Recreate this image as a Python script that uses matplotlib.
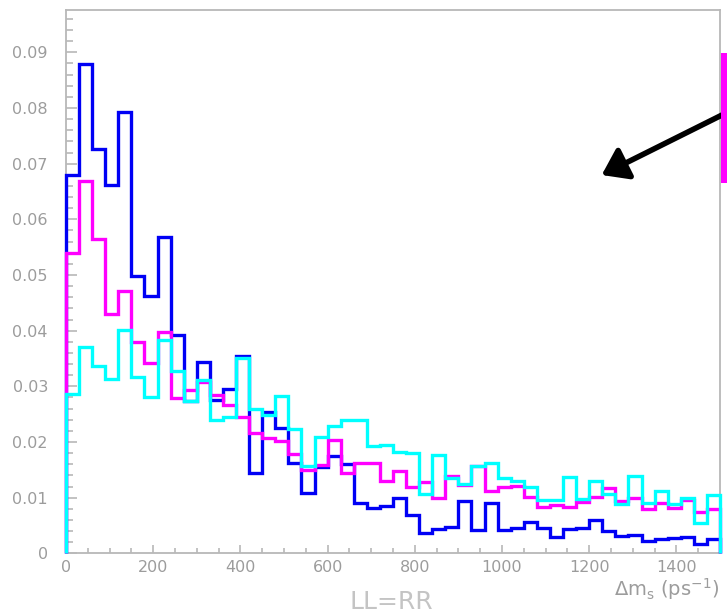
import numpy as np
import matplotlib
matplotlib.use("Agg")
import matplotlib.pyplot as plt
from matplotlib.patches import Rectangle
from matplotlib.ticker import MultipleLocator, FuncFormatter

# Histogram binning: 50 bins of 30 ps^-1 from 0 to 1500
bin_width = 30
n_bins = 50
bin_edges = np.arange(n_bins + 1) * bin_width

blue_counts = [
    0.0680, 0.0879, 0.0726, 0.0662, 0.0793, 0.0499, 0.0463, 0.0568, 0.0392, 0.0274,
    0.0344, 0.0276, 0.0295, 0.0354, 0.0144, 0.0254, 0.0226, 0.0162, 0.0108, 0.0155,
    0.0174, 0.0160, 0.0091, 0.0082, 0.0085, 0.0100, 0.0069, 0.0036, 0.0044, 0.0047,
    0.0094, 0.0042, 0.0090, 0.0042, 0.0046, 0.0057, 0.0045, 0.0030, 0.0043, 0.0046,
    0.0060, 0.0040, 0.0031, 0.0033, 0.0022, 0.0025, 0.0027, 0.0030, 0.0017, 0.0025,
]
magenta_counts = [
    0.0539, 0.0669, 0.0565, 0.0430, 0.0472, 0.0380, 0.0341, 0.0397, 0.0279, 0.0294,
    0.0307, 0.0284, 0.0266, 0.0244, 0.0217, 0.0208, 0.0202, 0.0178, 0.0150, 0.0159,
    0.0204, 0.0144, 0.0162, 0.0162, 0.0130, 0.0148, 0.0119, 0.0128, 0.0100, 0.0138,
    0.0122, 0.0156, 0.0112, 0.0119, 0.0121, 0.0102, 0.0084, 0.0087, 0.0084, 0.0092,
    0.0101, 0.0118, 0.0094, 0.0099, 0.0079, 0.0090, 0.0082, 0.0095, 0.0074, 0.0079,
]
cyan_counts = [
    0.0287, 0.0371, 0.0337, 0.0314, 0.0402, 0.0316, 0.0281, 0.0383, 0.0327, 0.0273,
    0.0312, 0.0240, 0.0245, 0.0351, 0.0259, 0.0248, 0.0283, 0.0223, 0.0156, 0.0209,
    0.0228, 0.0240, 0.0239, 0.0192, 0.0194, 0.0182, 0.0180, 0.0107, 0.0177, 0.0136,
    0.0124, 0.0157, 0.0162, 0.0136, 0.0130, 0.0119, 0.0096, 0.0096, 0.0137, 0.0098,
    0.0130, 0.0107, 0.0088, 0.0139, 0.0090, 0.0112, 0.0089, 0.0100, 0.0054, 0.0105,
]

x_major_ticks = [0, 200, 400, 600, 800, 1000, 1200, 1400]
y_major_ticks = [0, 0.01, 0.02, 0.03, 0.04, 0.05, 0.06, 0.07, 0.08, 0.09]

W, H, DPI = 727, 616, 100
fig = plt.figure(figsize=(W / DPI, H / DPI), dpi=DPI, facecolor="white")

# axes box in pixel terms
ax_left, ax_right, ax_top, ax_bottom = 66, 720, 9.5, 553.3
ax = fig.add_axes([ax_left / W, (H - ax_bottom) / H,
                   (ax_right - ax_left) / W, (ax_bottom - ax_top) / H])

axis_grey = "#b8b8b8"
label_grey = "#9c9c9c"
lw = 2.4

for counts, colour in [(blue_counts, "#0000f5"),
                       (magenta_counts, "#ff00ff"),
                       (cyan_counts, "#00ffff")]:
    ax.stairs(counts, bin_edges, baseline=0, color=colour, linewidth=lw,
              clip_on=False, zorder=3)

ax.set_xlim(0, 1500)
ax.set_ylim(0, 0.0977)

for side, sp in ax.spines.items():
    sp.set_color(axis_grey)
    sp.set_linewidth(1.3)
    sp.set_zorder(2)

ax.set_xticks(x_major_ticks)
ax.xaxis.set_minor_locator(MultipleLocator(50))
ax.set_yticks(y_major_ticks)
ax.yaxis.set_minor_locator(MultipleLocator(0.002))
ax.yaxis.set_major_formatter(FuncFormatter(lambda v, p: "0" if v == 0 else f"{v:.2f}"))

ax.tick_params(axis="both", which="both", direction="in", colors=axis_grey,
               labelcolor=label_grey, labelsize=11.5, width=1.2)
ax.tick_params(axis="x", which="major", length=6, pad=5)
ax.tick_params(axis="x", which="minor", length=3.5)
ax.tick_params(axis="y", which="major", length=8, pad=13)
ax.tick_params(axis="y", which="minor", length=4.8)
ax.tick_params(top=False, right=False, which="both")

# axis label at the lower right, below the tick labels
fig.text(719 / W, (H - 596) / H, r"$\Delta$m$_{\rm s}$ (ps$^{-1}$)",
         ha="right", va="baseline", fontsize=14, color=label_grey)

# plot caption
fig.text(391 / W, (H - 609) / H, "LL=RR", ha="center", va="baseline",
         fontsize=18, color="#c4c4c4")

# magenta marker bar at the right edge
fig.patches.append(Rectangle((721 / W, (H - 183) / H), 10 / W, 130 / H,
                             transform=fig.transFigure, facecolor="#ff00ff",
                             edgecolor="none", zorder=5))

# arrow pointing into the plot
ax.annotate("", xy=(601.7, H - 175), xycoords="figure pixels",
            xytext=(722, H - 115), textcoords="figure pixels",
            arrowprops=dict(arrowstyle="-|>,head_length=1.0,head_width=0.7",
                            mutation_scale=15, lw=4.0, color="black",
                            shrinkA=0, shrinkB=0),
            annotation_clip=False)

fig.savefig("out.png", dpi=DPI, facecolor="white")
